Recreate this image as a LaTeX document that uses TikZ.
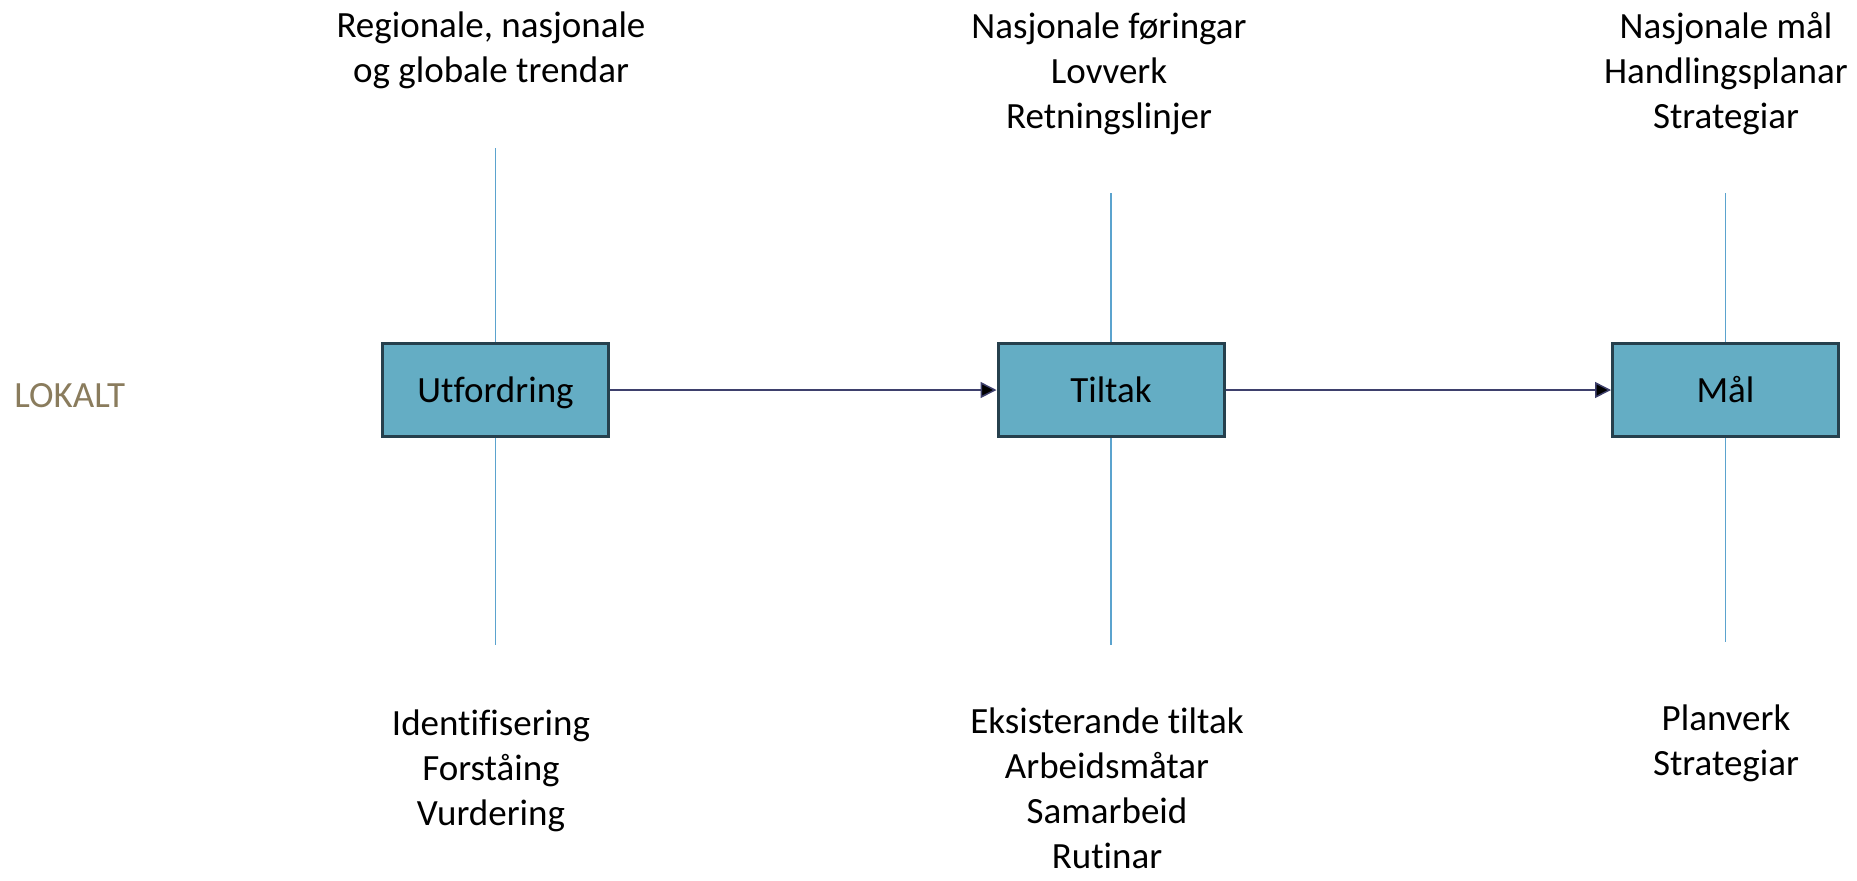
\documentclass[tikz,border=0pt]{standalone}
\usepackage{fontspec}
\setmainfont{Carlito}[Ligatures=NoCommon]
\usetikzlibrary{arrows.meta,positioning}
\definecolor{boxfill}{RGB}{100,173,196}
\definecolor{boxline}{RGB}{38,64,77}
\definecolor{linkcol}{RGB}{62,64,108}
\definecolor{axiscol}{RGB}{91,163,206}
\definecolor{lokalcol}{RGB}{138,124,93}

\begin{document}
\begin{tikzpicture}[x=0.5pt,y=-0.5pt,
  font=\fontsize{18.5}{22.5}\selectfont,
  stage/.style={draw=boxline,line width=1.5pt,fill=boxfill,minimum width=113pt,minimum height=46.5pt,inner sep=0pt,text height=12.5pt,text depth=0pt},
  txt/.style={align=center,anchor=base,inner sep=0pt},
  axis/.style={draw=axiscol,line width=0.75pt},
  link/.style={draw=linkcol,line width=0.75pt,-{Triangle[length=8pt,width=8pt]}}]
\useasboundingbox (0,0) rectangle (1857,880);
% ends of the vertical lines
\coordinate (ut) at (495.5,148);
\coordinate (ub) at (495.5,645);
\coordinate (tt) at (1111,193);
\coordinate (tb) at (1111,645);
\coordinate (mt) at (1725.5,193);
\coordinate (mb) at (1725.5,642);
\draw[axis] (ut) -- (ub);
\draw[axis] (tt) -- (tb);
\draw[axis] (mt) -- (mb);
% stages
\node[stage] (U) at (495.5,390) {Utfordring};
\node[stage] (T) at (1111,390) {Tiltak};
\node[stage] (M) at (1725.5,390) {Mål};
\path[link]
(U) edge (T)
(T) edge (M);
\node[txt,anchor=base west,text=lokalcol] (lok) at (14,407) {LOKALT};
% texts above (base = last line)
\node[txt] (trend) at (491,82) {Regionale, nasjonale\\og globale trendar};
\node[txt] (fore) at (1109,128) {Nasjonale føringar\\Lovverk\\Retningslinjer};
\node[txt] (plan) at (1726,128) {Nasjonale mål\\Handlingsplanar\\Strategiar};
% texts below
\node[txt] (vurd) at (491,825) {Identifisering\\Forståing\\Vurdering};
\node[txt] (rutin) at (1107,868) {Eksisterande tiltak\\Arbeidsmåtar\\Samarbeid\\Rutinar};
\node[txt] (verk) at (1726,775) {Planverk\\Strategiar};
\end{tikzpicture}
\end{document}
